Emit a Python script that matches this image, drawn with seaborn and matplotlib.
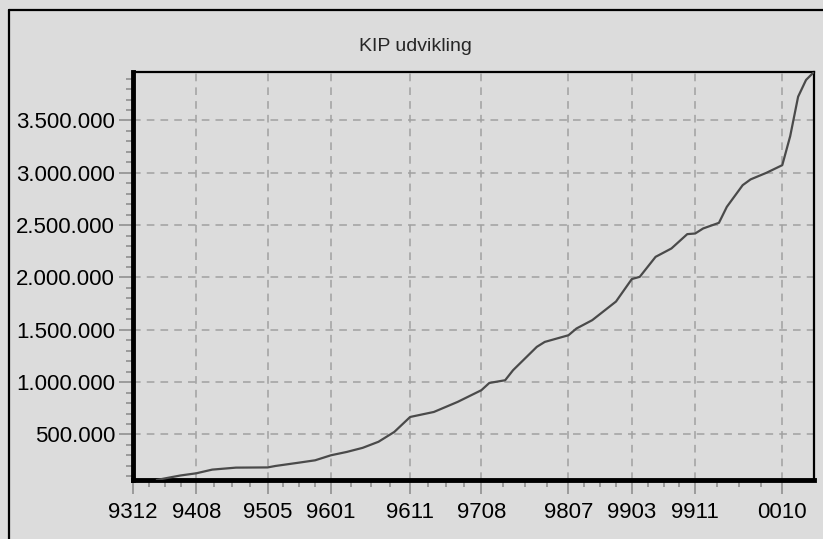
import numpy as np
import pandas as pd
import matplotlib
matplotlib.use("Agg")
import matplotlib.pyplot as plt
from matplotlib.lines import Line2D
from matplotlib.ticker import FixedLocator, MultipleLocator, FuncFormatter
import seaborn as sns

# ---------- data ----------
periods = ["9403", "9405", "9406", "9408", "9410", "9501", "9505", "9506",
           "9509", "9511", "9601", "9603", "9605", "9607", "9609", "9611",
           "9702", "9705", "9708", "9709", "9711", "9712", "9803", "9804",
           "9807", "9808", "9810", "9901", "9903", "9904", "9906", "9908",
           "9910", "9911", "9912", "0002", "0003", "0005", "0006", "0008",
           "0010", "0011", "0012", "0101", "0102"]
kip = [65000, 94000, 108000, 129000, 164000, 183000, 185000, 199000,
       231000, 253000, 301000, 333000, 372000, 430000, 524000, 667000,
       715000, 811000, 923000, 992000, 1018000, 1114000, 1337000, 1384000,
       1448000, 1512000, 1592000, 1770000, 1985000, 2006000, 2197000, 2277000,
       2414000, 2420000, 2468000, 2522000, 2675000, 2882000, 2937000, 3000000,
       3073000, 3350000, 3727000, 3887000, 3963000]
tick_labels = ["9312", "9408", "9505", "9601", "9611", "9708",
               "9807", "9903", "9911", "0010"]
y_ticks = [500000, 1000000, 1500000, 2000000, 2500000, 3000000, 3500000]
title = "KIP udvikling"

start = "9312"


def month_index(p):
    yy, mm = int(p[:2]), int(p[2:])
    year = 1900 + yy if yy > 50 else 2000 + yy
    y0, m0 = 1900 + int(start[:2]), int(start[2:])
    return (year - y0) * 12 + (mm - m0)


df = pd.DataFrame({"month": [month_index(p) for p in periods], "kip": kip})
x_ticks = [month_index(p) for p in tick_labels]

# ---------- style ----------
bg = "#dcdcdc"
sns.set_theme(style="ticks")
plt.rcParams["font.family"] = ["Liberation Sans", "DejaVu Sans"]

fig = plt.figure(figsize=(8.23, 5.39), dpi=100, facecolor=bg)
ax = fig.add_axes([0.1616, 0.1095, 0.989 - 0.1616, 0.8664 - 0.1095])
ax.set_facecolor(bg)

sns.lineplot(data=df, x="month", y="kip", ax=ax, color="#4a4a4a",
             linewidth=1.6, zorder=3)

ax.set_xlim(0, df["month"].max())
ax.set_ylim(min(kip), max(kip))

ax.xaxis.set_major_locator(FixedLocator(x_ticks))
ax.set_xticklabels(tick_labels)
# 4 subdivisions between labelled ticks
minor_x = []
for a, b in zip(x_ticks[:-1], x_ticks[1:]):
    minor_x += list(np.linspace(a, b, 5)[1:-1])
ax.xaxis.set_minor_locator(FixedLocator(minor_x))

ax.yaxis.set_major_locator(FixedLocator(y_ticks))
ax.yaxis.set_minor_locator(MultipleLocator(100000))
ax.yaxis.set_major_formatter(FuncFormatter(lambda v, _: f"{int(v):,}".replace(",", ".")))

ax.grid(True, which="major", color="#a0a0a0", linestyle=(0, (5, 4)), linewidth=1.1)
ax.tick_params(axis="both", which="major", labelsize=16, colors="#909090",
               labelcolor="black", length=10, width=1.2)
ax.tick_params(axis="both", which="minor", colors="#909090", length=5, width=1.2)
ax.tick_params(axis="x", which="major", pad=6)
ax.tick_params(axis="y", which="major", pad=3)

for side in ["left", "bottom"]:
    ax.spines[side].set_linewidth(3.5)
    ax.spines[side].set_color("black")
for side in ["top", "right"]:
    ax.spines[side].set_visible(True)
    ax.spines[side].set_linewidth(1.6)
    ax.spines[side].set_color("black")

ax.set_xlabel("")
ax.set_ylabel("")

fig.text(0.505, 0.913, title, ha="center", va="center", fontsize=14)

# outer window frame (top and left edge)
fig.add_artist(Line2D([0.011, 1.0], [0.981, 0.981], transform=fig.transFigure,
                      color="black", linewidth=1.6))
fig.add_artist(Line2D([0.011, 0.011], [0.0, 0.981], transform=fig.transFigure,
                      color="black", linewidth=1.6))

plt.savefig("out.png", dpi=100, facecolor=bg)
